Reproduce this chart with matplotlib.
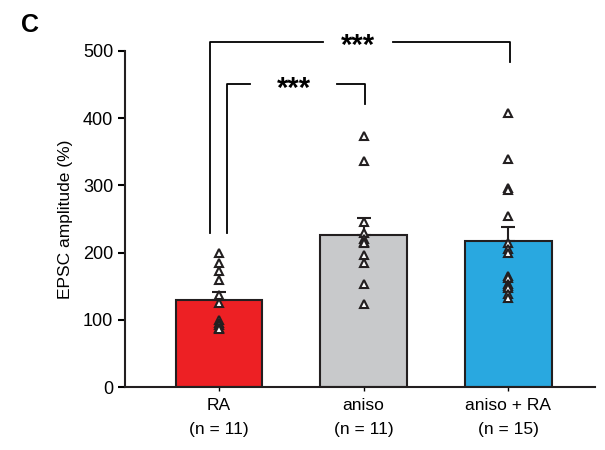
import numpy as np
import matplotlib.pyplot as plt

plt.rcParams['font.family'] = ['Liberation Sans', 'DejaVu Sans']

# Data
groups = ['RA\n(n = 11)', 'aniso\n(n = 11)', 'aniso + RA\n(n = 15)']
means = [130, 226, 217]
sems = [12, 25, 21]
ra_pts = [199, 184, 173, 159, 137, 125, 100, 95, 92, 88, 86]
aniso_pts = [373, 337, 246, 229, 220, 216, 214, 196, 184, 154, 124]
aniso_ra_pts = [408, 339, 296, 293, 255, 214, 206, 199, 165, 162, 154, 150, 147, 139, 132]
colors = ['#ED2024', '#C8C9CB', '#29A8E0']

fig = plt.figure(figsize=(6.05, 4.5), dpi=100)
ax = fig.add_axes([0.2066, 0.14, 0.7769, 0.7467])

x = np.arange(len(groups))
ax.bar(x, means, width=0.6, color=colors, edgecolor='#231F20', linewidth=1.5, zorder=2)
ax.errorbar(x, means, yerr=[np.zeros(3), sems], fmt='none', ecolor='#231F20',
            elinewidth=1.5, capsize=5, capthick=1.5, zorder=3)

for i, pts in enumerate([ra_pts, aniso_pts, aniso_ra_pts]):
    ax.plot(np.full(len(pts), x[i]), pts, linestyle='none', marker='^',
            markersize=6, markerfacecolor='white', markeredgecolor='#231F20',
            markeredgewidth=1.5, zorder=4)

ax.set_xlim(-0.65, 2.6)
ax.set_ylim(0, 500)
ax.set_yticks([0, 100, 200, 300, 400, 500])
ax.set_xticks(x)
ax.set_xticklabels(groups, fontsize=12.5, linespacing=1.75)
ax.tick_params(axis='y', labelsize=13, width=1.5, length=5)
ax.tick_params(axis='x', width=1, length=3, pad=5)
ax.set_ylabel('EPSC amplitude (%)', fontsize=12.5, labelpad=7)
for s in ['top', 'right']:
    ax.spines[s].set_visible(False)
for s in ['left', 'bottom']:
    ax.spines[s].set_linewidth(1.5)
    ax.spines[s].set_color('#231F20')

# significance brackets
lw = 1.3
# big bracket RA vs aniso+RA
ax.plot([-0.062, -0.062, 0.72], [229, 514, 514], color='black', lw=lw, clip_on=False)
ax.plot([1.2, 2.014, 2.014], [514, 514, 484], color='black', lw=lw, clip_on=False)
ax.text(0.96, 507, '***', ha='center', va='center', fontsize=21, fontweight='bold', clip_on=False)
# small bracket RA vs aniso
ax.plot([0.055, 0.055, 0.215], [229, 451, 451], color='black', lw=lw, clip_on=False)
ax.plot([0.815, 1.007, 1.007], [451, 451, 421], color='black', lw=lw, clip_on=False)
ax.text(0.515, 444, '***', ha='center', va='center', fontsize=21, fontweight='bold', clip_on=False)

fig.text(0.035, 0.945, 'C', fontsize=18, fontweight='bold', ha='left', va='center')

plt.savefig('out.png', dpi=100)
